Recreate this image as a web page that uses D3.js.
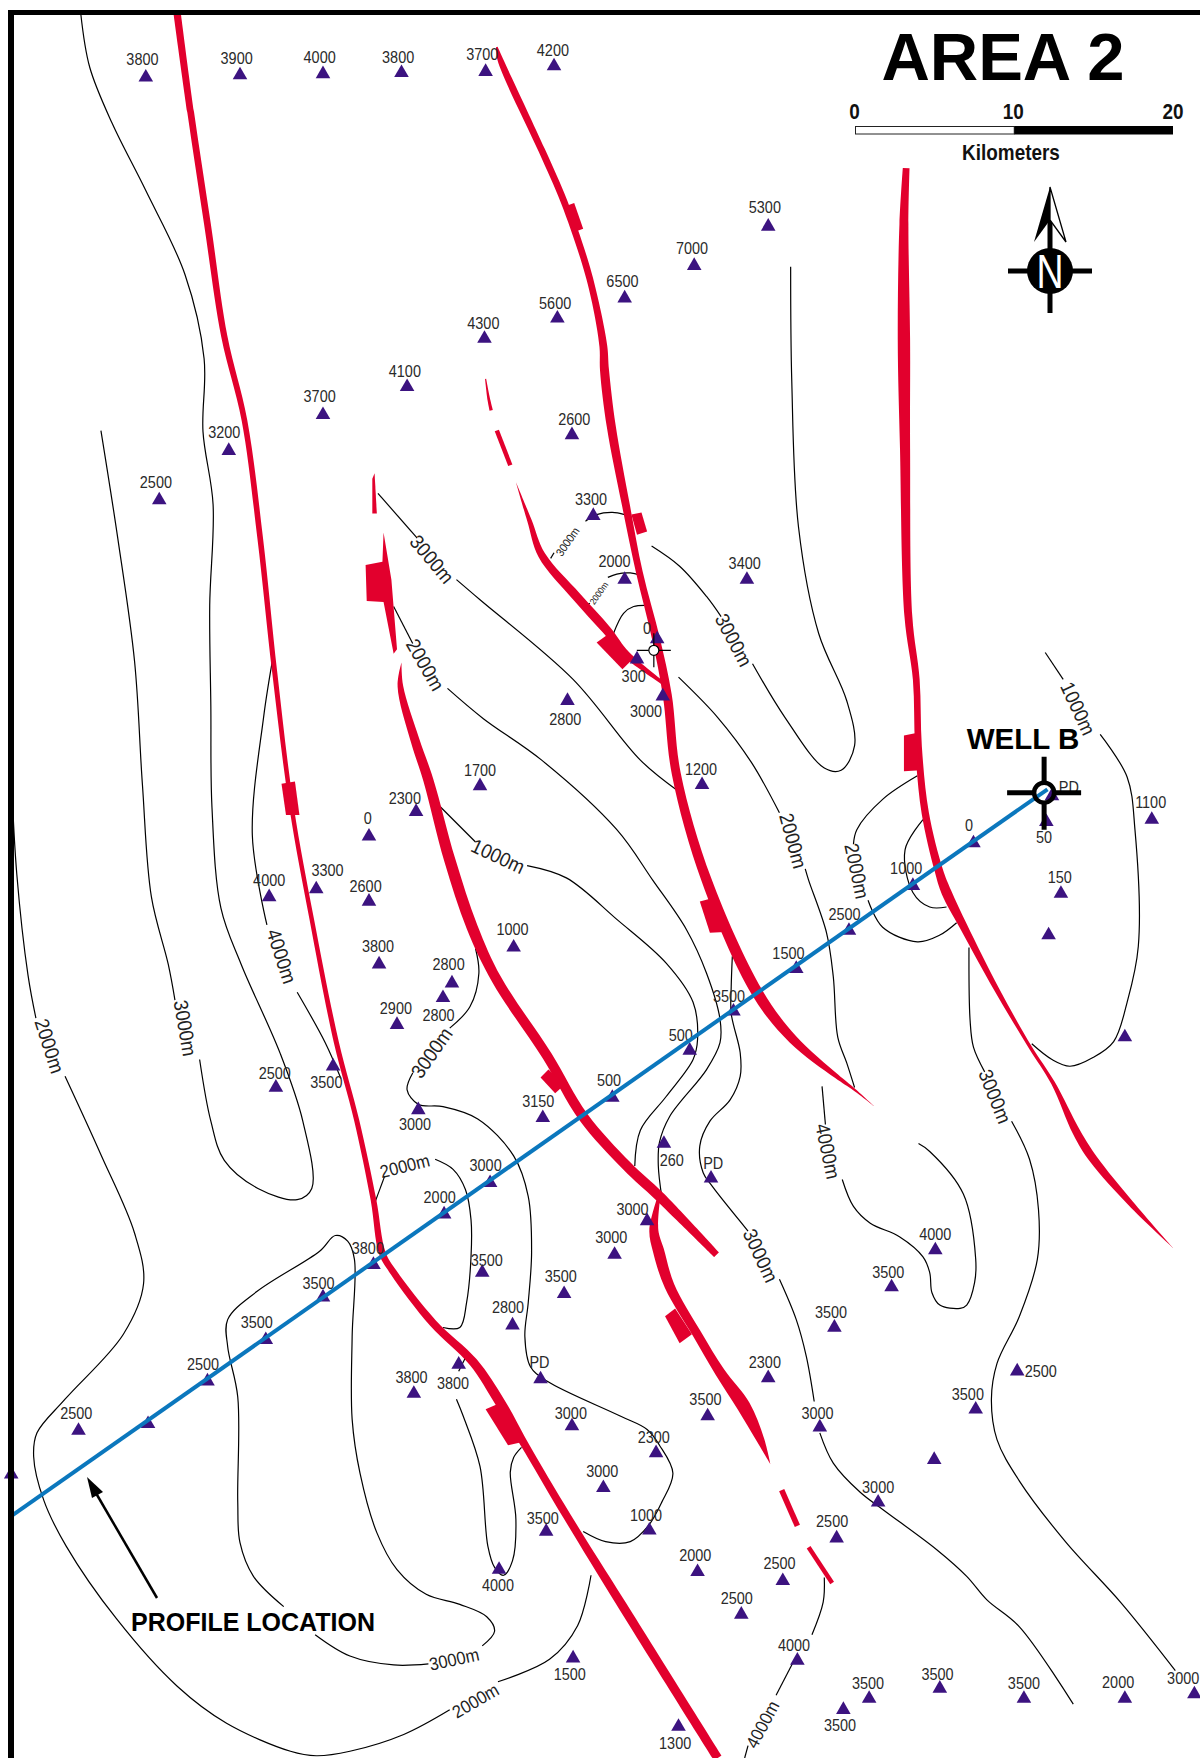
<!DOCTYPE html>
<html><head><meta charset="utf-8">
<script src="https://cdn.jsdelivr.net/npm/d3@7"></script>
<style>
html,body{margin:0;padding:0;background:#fff}
svg{display:block}
.well{font-family:"Liberation Sans",Arial,sans-serif;font-size:17px;fill:#2a2a2a;text-anchor:middle;dominant-baseline:central}
.cl{font-family:"Liberation Sans",Arial,sans-serif;fill:#222;text-anchor:middle;dominant-baseline:central}
</style></head><body>
<svg id="map" width="1200" height="1758"></svg>
<script>
// Map readings in picture units (reference read at 1070 x 1568)
const mapWidth=1070, mapHeight=1568;

const wellPoints=[[130,69],[214,67],[288,66],[358,65],[433,64],[494,59],[685,202],[619,237],[557,266],[497,284],[432,302],[363,345],[288,370],[204,402],[142,446],[510,388],[529,460],[557,517],[666,517],[586,570],[568,588],[591,621],[506,625],[626,700],[428,701],[371,724],[329,746],[282,793],[329,804],[240,800],[458,845],[338,860],[403,877],[395,890],[354,914],[246,970],[297,951],[373,990],[484,997],[546,979],[615,937],[654,902],[710,864],[757,830],[814,790],[868,752],[938,710],[933,733],[1027,731],[946,797],[935,834],[1003,925],[592,1020],[634,1051],[437,1055],[396,1083],[577,1089],[548,1119],[430,1135],[333,1128],[288,1157],[503,1154],[457,1182],[237,1195],[185,1232],[409,1217],[369,1243],[482,1230],[70,1276],[132,1270],[10,1315],[510,1272],[685,1229],[631,1263],[731,1273],[585,1296],[538,1327],[783,1340],[487,1366],[579,1365],[746,1372],[445,1400],[622,1402],[698,1410],[661,1440],[711,1481],[511,1479],[775,1515],[838,1506],[913,1515],[1003,1515],[1065,1511],[752,1525],[605,1540],[834,1115],[795,1148],[744,1184],[907,1223],[870,1257],[833,1302]];

const wellLabels=[["3800",127,53],["3900",211,52],["4000",285,51],["3800",355,51],["3700",430,48],["4200",493,45],["5300",682,185],["7000",617,221],["6500",555,251],["5600",495,270],["4300",431,288],["4100",361,331],["3700",285,353],["3200",200,385],["2500",139,430],["2600",512,374],["3300",527,445],["2000",548,500],["3400",664,502],["0",577,560],["300",565,603],["3000",576,634],["2800",504,641],["1200",625,686],["1700",428,687],["2300",361,712],["0",328,730],["3300",292,776],["2600",326,790],["4000",240,785],["1000",457,829],["3800",337,844],["2800",400,860],["2800",391,905],["2900",353,899],["2500",245,957],["3500",291,965],["3000",370,1003],["3150",480,982],["500",543,963],["500",607,923],["3500",650,888],["1500",703,850],["2500",753,815],["1000",808,774],["0",864,736],["PD",953,702],["50",931,747],["1100",1026,715],["150",945,782],["260",599,1035],["PD",636,1037],["3000",433,1039],["2000",392,1068],["3000",564,1078],["3000",545,1103],["3500",434,1124],["3800",328,1113],["3500",284,1144],["3500",500,1138],["2800",453,1166],["3500",229,1179],["2500",181,1217],["3800",404,1234],["3800",367,1228],["PD",481,1215],["2500",68,1260],["3000",509,1260],["2300",682,1215],["3500",629,1248],["3000",729,1260],["2300",583,1282],["3000",537,1312],["3000",783,1326],["3500",484,1354],["1000",576,1351],["2500",742,1357],["4000",444,1414],["2000",620,1387],["2500",695,1394],["2500",657,1425],["4000",708,1467],["1500",508,1493],["3500",774,1501],["3500",836,1493],["3500",913,1501],["2000",997,1500],["3000",1055,1497],["3500",749,1539],["1300",602,1555],["4000",834,1101],["3500",792,1135],["3500",741,1170],["2500",928,1223],["3500",863,1243]];

const contourLines=[
 [[72,12],[80,60],[100,110],[130,170],[165,245],[182,320],[181,385],[190,450],[187,540],[188,630],[189,720],[197,810],[215,860],[250,940],[270,1000],[278,1060],[265,1070],[230,1060],[200,1035],[188,1000],[178,945]],
 [[90,384],[105,480],[120,590],[127,700],[135,800],[150,860],[156,892]],
 [[10,690],[15,780],[25,870],[32,908]],
 [[58,960],[90,1030],[120,1100],[128,1145],[110,1190],[58,1248],[33,1278],[30,1299],[39,1338],[59,1379],[104,1444],[158,1504],[202,1537],[259,1562],[282,1566],[312,1562],[360,1547],[401,1525]],
 [[444,1500],[490,1480],[515,1450],[527,1405]],
 [[244,583],[235,640],[225,745],[238,825]],
 [[265,885],[290,930],[304,962]],
 [[337,440],[372,480]],
 [[407,517],[428,535],[511,606],[571,678],[604,705]],
 [[351,541],[368,574]],
 [[399,614],[431,641],[483,678],[550,740],[582,785],[612,829],[630,868],[642,909],[642,930],[630,954],[597,996],[588,1019],[587,1040],[590,1067]],
 [[389,716],[424,751]],
 [[470,772],[505,783],[550,820],[594,859],[618,894],[622,927],[618,945],[594,978],[571,1008],[566,1040]],
 [[491,498],[494,493]],
 [[522,465],[532,459],[546,457],[557,459]],
 [[524,539],[526,538]],
 [[542,515],[550,512],[562,511],[571,513]],
 [[547,565],[556,547],[565,541],[578,540]],
 [[581,487],[606,505],[630,532],[643,550]],
 [[671,592],[700,640],[735,685],[750,687],[762,665],[755,625],[730,565],[712,470],[706,340],[705,238]],
 [[605,604],[640,640],[670,680],[695,725]],
 [[718,775],[721,785],[737,832],[743,871],[747,925],[755,948],[762,970]],
 [[653,853],[652,880],[652,904],[660,939],[660,960],[651,981],[633,1000],[624,1022],[627,1046],[635,1058],[667,1098]],
 [[695,1141],[710,1177],[719,1210],[726,1250]],
 [[731,1278],[743,1305],[767,1331],[788,1347],[835,1382],[862,1406],[880,1427],[909,1451],[957,1520]],
 [[733,969],[736,1003]],
 [[751,1052],[761,1076],[776,1091],[802,1103],[823,1121],[829,1135],[831,1153],[838,1164],[856,1167],[862,1164],[869,1144],[870,1123],[859,1065],[829,1027],[819,1020]],
 [[932,582],[948,606]],
 [[981,655],[1005,693],[1012,740],[1015,844],[1005,894],[993,929],[975,943],[954,951],[938,945],[920,931]],
 [[818,692],[787,713],[764,740],[761,753]],
 [[774,803],[787,827],[818,840],[838,834],[853,823]],
 [[823,731],[807,758],[814,796],[829,809],[844,809]],
 [[864,845],[865,910],[868,934],[878,956]],
 [[902,1000],[918,1034],[926,1079],[925,1123],[909,1174],[889,1216],[884,1248],[889,1284],[909,1321],[950,1375],[1000,1430],[1048,1490]],
 [[424,846],[427,868],[419,898],[401,917]],
 [[368,957],[363,972],[373,985],[395,987],[426,998],[458,1031],[471,1067],[474,1117],[471,1162],[468,1192],[473,1219],[488,1232],[553,1263],[577,1275],[588,1289],[600,1314],[590,1340],[578,1361],[562,1375],[540,1375],[520,1366]],
 [[333,1076],[343,1049]],
 [[388,1034],[404,1043],[415,1061],[420,1088],[420,1121],[416,1162],[410,1184],[395,1184]],
 [[253,1433],[226,1406],[214,1376],[212,1340],[212,1246],[203,1201],[203,1177],[229,1152],[285,1116],[299,1102],[310,1107],[316,1123],[314,1192],[314,1266],[321,1314],[336,1367],[354,1400],[380,1422],[410,1431],[434,1442],[441,1455],[430,1468]],
 [[281,1458],[312,1477],[351,1485],[382,1484]],
 [[407,1248],[413,1263],[428,1308],[435,1379],[441,1398],[449,1405],[457,1392],[460,1355],[455,1313],[458,1300],[465,1291]],
 [[415,1211],[409,1223]],
 [[735,1407],[734,1429],[724,1458]],
 [[707,1483],[692,1512]],
 [[667,1557],[664,1568]]
];

const contourLabels=[["3000m",385,499,50],["2000m",379,593,60],["3000m",654,571,62],["1000m",961,632,65],["2000m",707,750,75],["2000m",764,777,78],["1000m",444,764,25],["4000m",251,853,72],["3000m",385,939,-55],["3000m",165,917,80],["2000m",44,933,72],["3000m",887,978,68],["4000m",738,1027,78],["3000m",678,1120,65]];
const mediumContourLabels=[["2000m",361,1040,-14],["3000m",405,1480,-12],["2000m",424,1517,-30],["4000m",680,1538,-62]];
const smallContourLabels=[["3000m",506,483,-55]];
const tinyContourLabels=[["2000m",534,529,-55]];

// Fault traces: x, y, thickness
const faultTraces=[
 [[158,12,6.5],[170,100,6],[185,200,6],[200,300,5.5],[218,375,5],[232,480,5],[245,600,4.5],[260,720,4],[278,820,4],[300,930,4.5],[318,999,4.5],[333,1070,5],[341,1118,6],[351,1135,6],[386,1180,7],[422,1215,8],[446,1251,9],[467,1287,7],[506,1353,7],[553,1429,8],[640,1568,8]],
 [[443,42,1.5],[446,53,5],[483,134,6],[503,180,6],[522,235,6],[531,270,6],[538,309,7],[539,330,8],[545,380,8],[558,450,7],[570,510,6],[585,570,7],[595,620,8],[603,690,8],[630,785,9],[675,885,10],[707,927,8],[746,960,4],[762,972,2],[780,987,0]],
 [[433,338,1],[436,357,2.5],[438,366,3]],
 [[443,384,4],[455,415,4]],
 [[460,430,0],[472,464,4],[483,495,6.5],[514,532,8],[541,562,8],[559,584,6],[591,609,3]],
 [[358,591,0],[357,612,5],[370,660,8],[382,696,9],[401,767,10],[421,827,10],[443,874,9],[488,942,9],[520,996,9],[559,1040,9],[588,1067,9],[639,1119,6]],
 [[587,1070,3],[583,1097,8],[587,1115,10],[597,1147,9],[621,1189,8],[642,1224,9],[663,1254,12],[678,1284,7],[687,1306,0]],
 [[697,1329,5],[711,1361,5]],
 [[721,1380,4],[742,1412,4]],
 [[808,150,6],[806,200,8],[806,303,11],[807,400,9],[810,550,7],[817,606,6],[819,666,6],[825,725,6.5],[837,776,7.5],[844,796,9],[859,826,7],[889,883,4.5],[918,933,3],[939,966,3.5],[960,1010,7],[975,1034,7.5],[1008,1073,5],[1046,1113,0]]
];

const faultBlocks=[
 [[251,699],[263,697],[267,727],[255,727]],
 [[433,1257],[449,1250],[467,1286],[453,1289]],
 [[504,184],[512,181],[520,204],[512,207]],
 [[563,459],[572,457],[577,474],[568,477]],
 [[624,804],[639,800],[651,831],[633,832]],
 [[532,573],[542,566],[565,587],[555,597]],
 [[334,422],[332,427],[332,458],[336,458]],
 [[342,475],[349,517],[354,579],[351,583],[342,537],[327,536],[326,504],[341,501]],
 [[593,1174],[602,1167],[617,1190],[606,1198]],
 [[482,961],[489,954],[504,967],[495,975]],
 [[806,656],[816,654],[821,687],[806,688]]
];

const profileLine=[[9,1353],[934,704]];
const wellB=[931,707];
const smallWell=[583,580];
const scaleTicks=[0,10,20];

const W=1200,H=1758;
const x=d3.scaleLinear().domain([0,mapWidth]).range([0,W]);
const y=d3.scaleLinear().domain([0,mapHeight]).range([0,H]);
const svg=d3.select("#map");
const RED="#e2002d",BLUE="#0b77bd",PURPLE="#3c1380";

// Contours
const contourPath=d3.line().x(d=>x(d[0])).y(d=>y(d[1])).curve(d3.curveCatmullRom.alpha(.5));
svg.append("g").selectAll("path").data(contourLines).join("path")
 .attr("d",contourPath).attr("fill","none").attr("stroke","#000").attr("stroke-width",1.2);

// Faults
function ribbon(pts){
 const P=pts.map(p=>[x(p[0]),y(p[1]),p[2]*W/mapWidth/2]);
 const L=[],R=[];
 P.forEach((p,i)=>{
  const a=P[Math.max(0,i-1)],b=P[Math.min(P.length-1,i+1)];
  const dx=b[0]-a[0],dy=b[1]-a[1],n=Math.hypot(dx,dy)||1;
  L.push([p[0]-dy/n*p[2],p[1]+dx/n*p[2]]);
  R.push([p[0]+dy/n*p[2],p[1]-dx/n*p[2]]);
 });
 const lin=d3.line().curve(d3.curveCatmullRom.alpha(.5));
 return lin(L)+"L"+lin(R.reverse()).slice(1)+"Z";
}
svg.append("g").selectAll("path").data(faultTraces).join("path").attr("d",ribbon).attr("fill",RED);
svg.append("g").selectAll("polygon").data(faultBlocks).join("polygon")
 .attr("points",d=>d.map(p=>[x(p[0]),y(p[1])].join(",")).join(" ")).attr("fill",RED);

// Contour labels
function addContourLabels(data,size){
 svg.append("g").selectAll("text").data(data).join("text").attr("class","cl")
  .attr("font-size",size)
  .attr("transform",d=>`translate(${x(d[1])},${y(d[2])}) rotate(${d[3]}) scale(.92,1)`).text(d=>d[0]);
}
addContourLabels(contourLabels,20);
addContourLabels(mediumContourLabels,18);
addContourLabels(smallContourLabels,11.5);
addContourLabels(tinyContourLabels,9);

// Wells
svg.append("g").selectAll("path").data(wellPoints).join("path")
 .attr("d",d3.symbol(d3.symbolTriangle,92)).attr("fill",PURPLE)
 .attr("transform",d=>`translate(${x(d[0])},${y(d[1])})`);
svg.append("g").selectAll("text").data(wellLabels).join("text").attr("class","well")
 .attr("transform",d=>`translate(${x(d[1])},${y(d[2])}) scale(.85,1)`).text(d=>d[0]);

// Profile line
svg.append("path").attr("d",d3.line().x(d=>x(d[0])).y(d=>y(d[1]))(profileLine))
 .attr("stroke",BLUE).attr("stroke-width",4).attr("fill","none");

// Small well symbol
const sw=svg.append("g").attr("transform",`translate(${x(smallWell[0])},${y(smallWell[1])})`);
sw.append("path").attr("d","M-17,0H17M0,-17V17").attr("stroke","#000").attr("stroke-width",1.2);
sw.append("circle").attr("r",5).attr("fill","#fff").attr("stroke","#000").attr("stroke-width",1.2);

// Well B
const wb=svg.append("g").attr("transform",`translate(${x(wellB[0])},${y(wellB[1])})`);
wb.append("path").attr("d","M-37,0H-10M10,0H37M0,-36V-10M0,10V37").attr("stroke","#000").attr("stroke-width",5);
wb.append("circle").attr("r",10).attr("fill","none").attr("stroke","#000").attr("stroke-width",4.5);
svg.append("text").attr("x",1023).attr("y",749).attr("text-anchor","middle")
 .attr("font-family","Liberation Sans").attr("font-weight","bold").attr("font-size",29.5).text("WELL B");

// Borders
svg.append("rect").attr("x",8).attr("y",10).attr("width",1192).attr("height",5).attr("fill","#000");
svg.append("rect").attr("x",8).attr("y",10).attr("width",6).attr("height",1748).attr("fill","#000");

// Title
svg.append("text").attr("x",1003).attr("y",80).attr("text-anchor","middle")
 .attr("font-family","Liberation Sans").attr("font-weight","bold").attr("font-size",67).text("AREA 2");

// Scale bar
const sb=d3.scaleLinear().domain([0,20]).range([855.5,1173]);
svg.append("rect").attr("x",sb(0)).attr("y",126.5).attr("width",sb(10)-sb(0)).attr("height",7.5).attr("fill","#fff").attr("stroke","#222").attr("stroke-width",1);
svg.append("rect").attr("x",sb(10)).attr("y",126).attr("width",sb(20)-sb(10)).attr("height",8.5).attr("fill","#000");
svg.append("g").selectAll("text").data(scaleTicks).join("text")
 .attr("transform",d=>`translate(${sb(d)-(d==20?0:1)},119) scale(.86,1)`).attr("text-anchor","middle")
 .attr("font-family","Liberation Sans").attr("font-weight","bold").attr("font-size",22).attr("fill","#111").text(d=>d);
svg.append("text").attr("transform","translate(1011,160) scale(.88,1)").attr("text-anchor","middle")
 .attr("font-family","Liberation Sans").attr("font-weight","bold").attr("font-size",21.5).attr("fill","#111").text("Kilometers");

// North arrow
const na=svg.append("g").attr("transform","translate(1050,271)");
na.append("path").attr("d","M-42,0H42M0,-60V42").attr("stroke","#000").attr("stroke-width",5);
na.append("path").attr("d","M0,-84L-16,-29L0,-51Z").attr("fill","#000");
na.append("path").attr("d","M0,-84L16,-29L0,-51Z").attr("fill","#fff").attr("stroke","#000").attr("stroke-width",1.3);
na.append("circle").attr("r",23).attr("fill","#000");
na.append("text").attr("transform","translate(0,17) scale(.78,1)").attr("text-anchor","middle").attr("font-family","Liberation Sans").attr("font-size",48).attr("fill","#fff").text("N");

// Profile annotation
svg.append("text").attr("x",131).attr("y",1631).attr("font-family","Liberation Sans").attr("font-weight","bold").attr("font-size",25).text("PROFILE LOCATION");
svg.append("path").attr("d","M157,1598L93,1488").attr("stroke","#000").attr("stroke-width",2.5);
svg.append("path").attr("d","M87,1477L103,1492L92,1498Z").attr("fill","#000");
</script>
</body></html>
